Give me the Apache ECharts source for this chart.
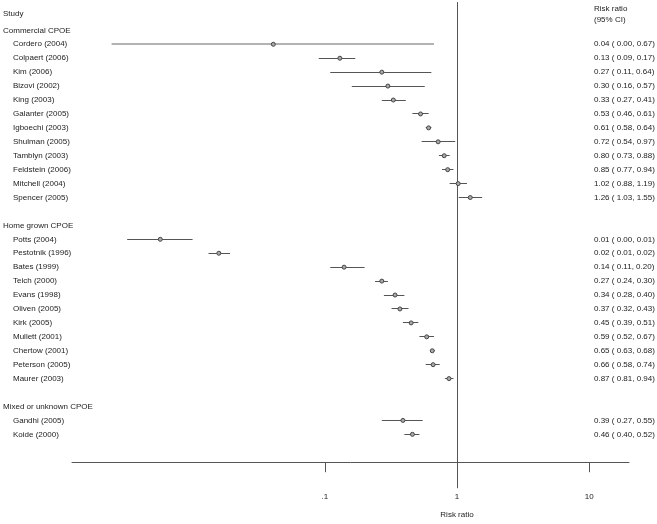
<!DOCTYPE html>
<html><head><meta charset="utf-8">
<script src="https://cdn.jsdelivr.net/npm/echarts@6/dist/echarts.min.js"></script>
<style>html,body{margin:0;padding:0;background:#fff}#c{width:657px;height:524px}</style>
</head><body><div id="c"></div><script>
// ---------- data ----------
const groupNames = ['Commercial CPOE', 'Home grown CPOE', 'Mixed or unknown CPOE'];

const commercialStudies = ['Cordero (2004)', 'Colpaert (2006)', 'Kim (2006)', 'Bizovi (2002)', 'King (2003)', 'Galanter (2005)', 'Igboechi (2003)', 'Shulman (2005)', 'Tamblyn (2003)', 'Feldstein (2006)', 'Mitchell (2004)', 'Spencer (2005)'];
const commercialRR = [0.0408, 0.13, 0.27, 0.30, 0.33, 0.53, 0.61, 0.72, 0.80, 0.85, 1.02, 1.26];
const commercialLo = [0.00244, 0.09, 0.11, 0.16, 0.27, 0.46, 0.58, 0.54, 0.73, 0.77, 0.88, 1.03];
const commercialHi = [0.67, 0.17, 0.64, 0.57, 0.41, 0.61, 0.64, 0.97, 0.88, 0.94, 1.19, 1.55];

const homeStudies = ['Potts (2004)', 'Pestotnik (1996)', 'Bates (1999)', 'Teich (2000)', 'Evans (1998)', 'Oliven (2005)', 'Kirk (2005)', 'Mullett (2001)', 'Chertow (2001)', 'Peterson (2005)', 'Maurer (2003)'];
const homeRR = [0.0057, 0.0158, 0.14, 0.27, 0.34, 0.37, 0.45, 0.59, 0.65, 0.66, 0.87];
const homeLo = [0.0032, 0.0132, 0.11, 0.24, 0.28, 0.32, 0.39, 0.52, 0.63, 0.58, 0.81];
const homeHi = [0.0100, 0.0192, 0.20, 0.30, 0.40, 0.43, 0.51, 0.67, 0.68, 0.74, 0.94];

const mixedStudies = ['Gandhi (2005)', 'Koide (2000)'];
const mixedRR = [0.39, 0.46];
const mixedLo = [0.27, 0.40];
const mixedHi = [0.55, 0.52];

const tickValues = [0.1, 1, 10];
const tickLabels = ['.1', '1', '10'];
const axisTitle = 'Risk ratio';
const columnHeaderLeft = 'Study';
const columnHeaderRight = ['Risk ratio', '(95% CI)'];

// ---------- build rows ----------
const groups = [
  { name: groupNames[0], studies: commercialStudies, rr: commercialRR, lo: commercialLo, hi: commercialHi },
  { name: groupNames[1], studies: homeStudies, rr: homeRR, lo: homeLo, hi: homeHi },
  { name: groupNames[2], studies: mixedStudies, rr: mixedRR, lo: mixedLo, hi: mixedHi }
];
const textRows = [];   // [dummyX, row, isHeader, label, rightText]
const ciRows = [];     // [log lo, log hi, row, wide]
const pointRows = [];  // [log rr, row]
const fmt = v => v.toFixed(2);
let r = -1;
groups.forEach((g, gi) => {
  if (gi > 0) r += 1;
  textRows.push([0, r, 1, g.name, '']);
  r += 1;
  g.studies.forEach((s, i) => {
    textRows.push([0, r, 0, s, fmt(g.rr[i]) + ' ( ' + fmt(g.lo[i]) + ', ' + fmt(g.hi[i]) + ')']);
    ciRows.push([Math.log10(g.lo[i]), Math.log10(g.hi[i]), r, (gi === 0 && i === 0) ? 1 : 0]);
    pointRows.push([Math.log10(g.rr[i]), r]);
    r += 1;
  });
});

const FONT = '"Liberation Sans", Arial, sans-serif';
const TXT = '#222';
const LINE = '#555';
const logTicks = tickValues.map(v => Math.log10(v));
const labelFor = v => {
  const i = logTicks.findIndex(t => Math.abs(t - v) < 1e-9);
  return i >= 0 ? tickLabels[i] : '';
};

const chart = echarts.init(document.getElementById('c'), null, { renderer: 'canvas' });
chart.setOption({
  animation: false,
  backgroundColor: '#fff',
  grid: { left: 72, right: 28, top: 2.5, bottom: 61.8 },
  xAxis: [
    {
      type: 'value', position: 'bottom', min: -2.912, max: 1.301,
      axisLine: { show: true, onZero: false, lineStyle: { color: LINE, width: 1 } },
      axisTick: { show: true, customValues: [logTicks[0], logTicks[2]], length: 10, lineStyle: { color: LINE } },
      axisLabel: { show: true, customValues: logTicks, formatter: v => labelFor(v), margin: 31, fontSize: 8, fontFamily: FONT, color: TXT },
      splitLine: { show: false }
    },
    {
      type: 'value', position: 'bottom', min: -2.912, max: 1.301,
      axisLine: { show: false, onZero: false },
      axisTick: { show: true, customValues: [logTicks[1]], length: 26, lineStyle: { color: LINE } },
      axisLabel: { show: true, customValues: [logTicks[1]], formatter: () => axisTitle, margin: 49, fontSize: 8, fontFamily: FONT, color: TXT },
      splitLine: { show: false }
    }
  ],
  yAxis: {
    type: 'value', inverse: true, min: -3, max: 30,
    axisLine: { show: true, onZero: true, onZeroAxisIndex: 0, lineStyle: { color: LINE, width: 1 } },
    axisTick: { show: false }, axisLabel: { show: false }, splitLine: { show: false }
  },
  graphic: [
    { type: 'text', x: 3, y: 14, style: { text: columnHeaderLeft, font: '8px ' + FONT, fill: TXT, verticalAlign: 'middle' } },
    { type: 'text', x: 594, y: 8.5, style: { text: columnHeaderRight[0], font: '8px ' + FONT, fill: TXT, verticalAlign: 'middle' } },
    { type: 'text', x: 594, y: 19.5, style: { text: columnHeaderRight[1], font: '8px ' + FONT, fill: TXT, verticalAlign: 'middle' } }
  ],
  series: [
    {
      type: 'custom', name: 'ci', clip: false, data: ciRows,
      encode: { x: [0, 1], y: 2 },
      renderItem: (params, api) => {
        const a = api.coord([api.value(0), api.value(2)]);
        const b = api.coord([api.value(1), api.value(2)]);
        const wide = api.value(3) === 1;
        const y = Math.round(a[1] - 0.5) + 0.5;
        return {
          type: 'line',
          shape: { x1: a[0], y1: wide ? Math.round(a[1]) : y, x2: b[0], y2: wide ? Math.round(a[1]) : y },
          style: { stroke: wide ? '#b3b3b3' : LINE, lineWidth: wide ? 2 : 1 }
        };
      },
      z: 2
    },
    {
      type: 'scatter', name: 'rr', data: pointRows, symbol: 'circle', symbolSize: 4,
      itemStyle: { color: '#aaa', borderColor: '#444', borderWidth: 1, opacity: 1 },
      z: 3
    },
    {
      type: 'custom', name: 'labels', clip: false, data: textRows,
      encode: { x: 0, y: 1 },
      renderItem: (params, api) => {
        const row = textRows[params.dataIndex];
        const y = api.coord([0, row[1]])[1];
        const children = [{
          type: 'text', x: row[2] ? 3 : 13, y: y,
          style: { text: row[3], font: '8px ' + FONT, fill: TXT, verticalAlign: 'middle', align: 'left' }
        }];
        if (row[4]) children.push({
          type: 'text', x: 594, y: y,
          style: { text: row[4], font: '8px ' + FONT, fill: TXT, verticalAlign: 'middle', align: 'left' }
        });
        return { type: 'group', children: children };
      },
      z: 4
    }
  ]
});
</script></body></html>
